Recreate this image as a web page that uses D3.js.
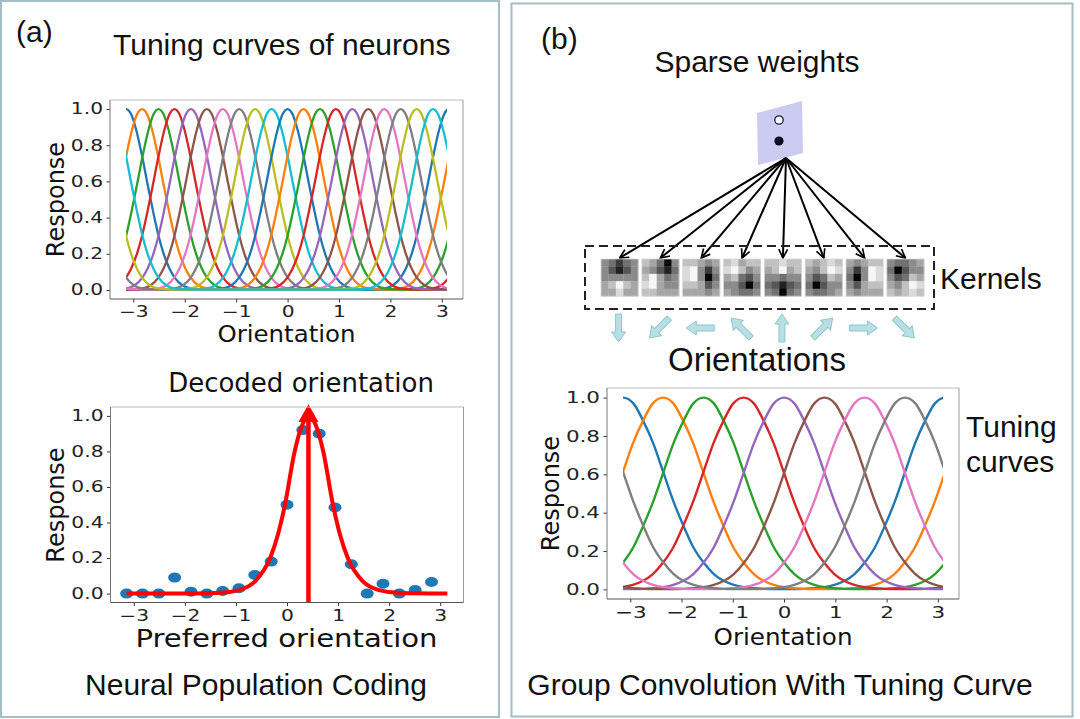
<!DOCTYPE html>
<html>
<head>
<meta charset="utf-8">
<script src="https://cdn.jsdelivr.net/npm/d3@7"></script>
<style>
body { margin: 0; background: #fff; }
svg { display: block; }
</style>
</head>
<body>
<script>
// ---- data ----
var tab10 = ["#1f77b4","#ff7f0e","#2ca02c","#d62728","#9467bd","#8c564b","#e377c2","#7f7f7f","#bcbd22","#17becf"];

var xTicks = [-3,-2,-1,0,1,2,3];
var yTicks = [0,0.2,0.4,0.6,0.8,1.0];

// panel (a) top: 20 neurons, preferred orientations
var neuronPrefs = [-3.14,-2.83,-2.51,-2.2,-1.88,-1.57,-1.26,-0.94,-0.63,-0.31,0,0.31,0.63,0.94,1.26,1.57,1.88,2.2,2.51,2.83];
// response vs distance from preferred orientation
var neuronDist = [0,0.1,0.2,0.31,0.42,0.52,0.63,0.73,0.84,0.94,1.1,1.26,1.5,1.8,2.2,2.6,3.0];
var neuronResp = [1,0.97,0.88,0.74,0.58,0.44,0.30,0.20,0.12,0.07,0.025,0.008,0.003,0.002,0.002,0.002,0.002];

// panel (a) bottom: population response of the 20 neurons
var popResp = [0,0,0,0.09,0.01,0,0.015,0.03,0.105,0.18,0.50,0.92,0.90,0.485,0.165,0,0.055,0,0.02,0.065];
var fitX = [-3.14,-2.2,-1.37,-0.94,-0.62,-0.33,-0.18,-0.04,0.15,0.3,0.43,0.56,0.71,0.9,1.04,1.19,1.48,1.8,2.23,3.14];
var fitY = [0,0,0.003,0.02,0.07,0.2,0.33,0.5,0.8,0.95,1.0,0.95,0.8,0.5,0.33,0.2,0.07,0.02,0.003,0];
var decoded = 0.42;

// panel (b): 8 group-convolution tuning curves
var groupPrefs = [-3.14,-2.36,-1.57,-0.79,0,0.79,1.57,2.36];
var groupDist = [0,0.2,0.39,0.59,0.785,0.98,1.18,1.37,1.57,1.77,1.96,2.16,2.36,2.55,2.75,3.0];
var groupResp = [1,0.97,0.88,0.76,0.61,0.46,0.33,0.22,0.14,0.08,0.045,0.024,0.012,0.006,0.003,0.002];

// kernels, grey level 0 (black) .. 9 (white), row by row
var kernels = [
  ["54245","53135","55555","67976","66866"],
  ["76405","65314","79645","89655","77666"],
  ["77656","89525","89504","77635","66656"],
  ["78677","89756","67435","55304","65445"],
  ["77877","67967","55455","43134","54045"],
  ["76787","65798","53476","40355","54456"],
  ["65677","52598","40598","53677","65666"],
  ["54456","40355","53476","65798","76787"]
];
var arrowAngles = [90,135,180,225,270,315,0,45];

var width = 1080, height = 719;

var svg = d3.select("body").append("svg")
  .attr("width", width)
  .attr("height", height);

var defs = svg.append("defs");

// panel boxes
svg.append("rect").attr("x",1).attr("y",1).attr("width",498).attr("height",716)
  .attr("fill","none").attr("stroke","#a3bfc4").attr("stroke-width",2);
svg.append("rect").attr("x",511.5).attr("y",3.5).attr("width",561).attr("height",713)
  .attr("fill","none").attr("stroke","#a3bfc4").attr("stroke-width",2);

function text(txt, x, y, size, family, anchor){
  return svg.append("text")
    .attr("x",x).attr("y",y)
    .attr("font-size",size)
    .attr("font-family",family || "Liberation Sans, Arial, sans-serif")
    .attr("text-anchor",anchor || "start")
    .attr("fill","#111")
    .text(txt);
}
var mpl = "DejaVu Sans, sans-serif";

function drawAxes(xs, ys, fs, sx){
  var fmt = function(d){ return d < 0 ? "\u2212" + (-d) : String(d); };
  var ax = svg.append("g")
    .attr("transform","translate(0,"+ys.range()[0]+")")
    .call(d3.axisBottom(xs).tickValues(xTicks).tickSize(3.5).tickPadding(4).tickFormat(fmt));
  var ay = svg.append("g")
    .attr("transform","translate("+xs.range()[0]+",0)")
    .call(d3.axisLeft(ys).tickValues(yTicks).tickSize(3.5).tickPadding(3.5).tickFormat(d3.format(".1f")));
  [ax,ay].forEach(function(a){
    a.select(".domain").remove();
    a.selectAll(".tick line").attr("stroke","#333");
    a.selectAll(".tick text").attr("font-family",mpl).attr("font-size",fs).attr("fill","#222")
      .style("transform-box","fill-box").style("transform","scaleX("+sx+")");
  });
  ax.selectAll(".tick text").style("transform-origin","50% 50%");
  ay.selectAll(".tick text").style("transform-origin","100% 50%");

  var x0 = xs.range()[0], x1 = xs.range()[1], y0 = ys.range()[0], y1 = ys.range()[1];
  svg.append("line").attr("x1",x0).attr("x2",x1).attr("y1",y1).attr("y2",y1).attr("stroke","#bbb");
  svg.append("line").attr("x1",x1).attr("x2",x1).attr("y1",y1).attr("y2",y0).attr("stroke","#999");
  svg.append("line").attr("x1",x0).attr("x2",x1).attr("y1",y0).attr("y2",y0).attr("stroke","#555");
  svg.append("line").attr("x1",x0).attr("x2",x0).attr("y1",y1).attr("y2",y0).attr("stroke","#777");
}

function tuningPoints(p, dist, resp){
  var pts = [];
  [-2*Math.PI, 0, 2*Math.PI].forEach(function(s){
    for (var k = dist.length-1; k > 0; k--) pts.push([p+s-dist[k], resp[k]]);
    for (var k = 0; k < dist.length; k++) pts.push([p+s+dist[k], resp[k]]);
  });
  return pts;
}

function drawTuning(id, xs, ys, prefs, dist, resp, lw){
  defs.append("clipPath").attr("id",id).append("rect")
    .attr("x",xs(-Math.PI)).attr("width",xs(3.1)-xs(-Math.PI))
    .attr("y",ys.range()[1]).attr("height",ys.range()[0]-ys.range()[1]);
  var line = d3.line()
    .x(function(d){ return xs(d[0]); })
    .y(function(d){ return ys(d[1]); })
    .curve(d3.curveMonotoneX);
  svg.append("g").attr("clip-path","url(#"+id+")")
    .selectAll("path")
    .data(prefs)
    .enter()
    .append("path")
    .attr("d",function(p){ return line(tuningPoints(p, dist, resp)); })
    .attr("fill","none")
    .attr("stroke",function(p,i){ return tab10[i % 10]; })
    .attr("stroke-width",lw);
}

// ---------- panel (a) ----------
text("(a)", 16, 42, 30);
text("Tuning curves of neurons", 113, 55, 30);

var xs1 = d3.scaleLinear().domain([-3.454,3.412]).range([110,463]);
var ys1 = d3.scaleLinear().domain([-0.05,1.05]).range([299,100]);
drawTuning("clipA", xs1, ys1, neuronPrefs, neuronDist, neuronResp, 2.3);
drawAxes(xs1, ys1, 15, 1.35);
text("Orientation", 286.5, 342, 23, mpl, "middle").attr("textLength",138).attr("lengthAdjust","spacingAndGlyphs");
text("Response", 0, 0, 24, mpl, "middle").attr("transform","translate(64,199.5) rotate(-90)");

text("Decoded orientation", 301, 392, 26, mpl, "middle");
var xs2 = d3.scaleLinear().domain([-3.456,3.456]).range([110.5,463.5]);
var ys2 = d3.scaleLinear().domain([-0.05,1.05]).range([602.5,407]);

svg.append("g").selectAll("ellipse")
  .data(popResp)
  .enter()
  .append("ellipse")
  .attr("cx",function(d,i){ return xs2(neuronPrefs[i]); })
  .attr("cy",function(d){ return ys2(d); })
  .attr("rx",6.5).attr("ry",5)
  .attr("fill","#1f77b4");

var fitLine = d3.line()
  .x(function(d,i){ return xs2(fitX[i]); })
  .y(function(d){ return ys2(d); })
  .curve(d3.curveMonotoneX);
svg.append("path").attr("d",fitLine(fitY))
  .attr("fill","none").attr("stroke","#ff0000").attr("stroke-width",4);

svg.append("line")
  .attr("x1",xs2(decoded)).attr("x2",xs2(decoded))
  .attr("y1",ys2(-0.05)).attr("y2",ys2(0.975))
  .attr("stroke","#ff0000").attr("stroke-width",4.5);
svg.append("path")
  .attr("d","M"+(xs2(decoded)-10)+","+ys2(0.965)+" L"+xs2(decoded)+","+ys2(1.065)+" L"+(xs2(decoded)+10)+","+ys2(0.965)+" Z")
  .attr("fill","#ff0000");

drawAxes(xs2, ys2, 15, 1.35);
text("Preferred orientation", 286.5, 647, 24, mpl, "middle").attr("textLength",302).attr("lengthAdjust","spacingAndGlyphs");
text("Response", 0, 0, 24, mpl, "middle").attr("transform","translate(64,505) rotate(-90)");

text("Neural Population Coding", 256, 695, 30, null, "middle");

// ---------- panel (b) ----------
text("(b)", 541, 49, 30);
text("Sparse weights", 757, 72, 30, null, "middle");

svg.append("polygon").attr("points","757,113 802,101 803,153 758,165").attr("fill","#cbcbf2");
svg.append("circle").attr("cx",779).attr("cy",120).attr("r",4.2)
  .attr("fill","#fff").attr("stroke","#1a1a4a").attr("stroke-width",1.3);
svg.append("circle").attr("cx",779).attr("cy",141).attr("r",4.6).attr("fill","#080820");

var kx = d3.scaleBand().domain(d3.range(kernels.length)).range([601,924]).paddingInner(0.09);
var ky = 259;
var cell = d3.scaleBand().domain(d3.range(5)).range([0,kx.bandwidth()]);
var grey = d3.scaleLinear().domain([0,9]).range(["#060606","#f6f6f6"]);

defs.append("marker").attr("id","vhead")
  .attr("viewBox","0 0 10 10").attr("refX",9).attr("refY",5)
  .attr("markerWidth",5.5).attr("markerHeight",5.5).attr("orient","auto")
  .attr("markerUnits","strokeWidth")
  .append("path").attr("d","M1,1 L9,5 L1,9").attr("fill","none").attr("stroke","#000").attr("stroke-width",1.5);

svg.append("g").selectAll("line")
  .data(kernels)
  .enter()
  .append("line")
  .attr("x1",786).attr("y1",158)
  .attr("x2",function(d,i){ return kx(i)+kx.bandwidth()/2; })
  .attr("y2",ky-1)
  .attr("stroke","#000").attr("stroke-width",2)
  .attr("marker-end","url(#vhead)");

var kg = svg.append("g").selectAll("g")
  .data(kernels)
  .enter()
  .append("g")
  .attr("transform",function(d,i){ return "translate("+kx(i)+","+ky+")"; });
kg.each(function(rows){
  var g = d3.select(this);
  rows.forEach(function(r, ri){
    r.split("").forEach(function(v, ci){
      g.append("rect")
        .attr("x",cell(ci)).attr("y",cell(ri))
        .attr("width",cell.bandwidth()+0.3).attr("height",cell.bandwidth()+0.3)
        .attr("fill",grey(+v));
    });
  });
  g.append("rect").attr("width",kx.bandwidth()).attr("height",kx.bandwidth())
    .attr("fill","none").attr("stroke","#d8d8d8").attr("stroke-width",0.8);
});

svg.append("rect").attr("x",585).attr("y",246).attr("width",349).attr("height",63)
  .attr("fill","none").attr("stroke","#222").attr("stroke-width",2).attr("stroke-dasharray","9,5");
text("Kernels", 940, 289, 30);

svg.append("g").selectAll("path")
  .data(arrowAngles)
  .enter()
  .append("path")
  .attr("d","M-14,-3 L4,-3 L4,-7 L14,0 L4,7 L4,3 L-14,3 Z")
  .attr("transform",function(a,i){ return "translate("+(kx(i)+kx.bandwidth()/2-1)+",328) rotate("+a+")"; })
  .attr("fill","#b8e0e4").attr("stroke","#8ec6cc").attr("stroke-width",1);

text("Orientations", 757, 371, 33, null, "middle");

var xs3 = d3.scaleLinear().domain([-3.454,3.412]).range([607,959]);
var ys3 = d3.scaleLinear().domain([-0.05,1.05]).range([599,388]);
drawTuning("clipB", xs3, ys3, groupPrefs, groupDist, groupResp, 2.4);
drawAxes(xs3, ys3, 16.5, 1.3);
text("Orientation", 783, 645, 23, mpl, "middle").attr("textLength",139).attr("lengthAdjust","spacingAndGlyphs");
text("Response", 0, 0, 24, mpl, "middle").attr("transform","translate(559,493.5) rotate(-90)");

text("Tuning", 966, 437, 30);
text("curves", 966, 472, 30);

text("Group Convolution With Tuning Curve", 780, 695, 30, null, "middle");
</script>
</body>
</html>
